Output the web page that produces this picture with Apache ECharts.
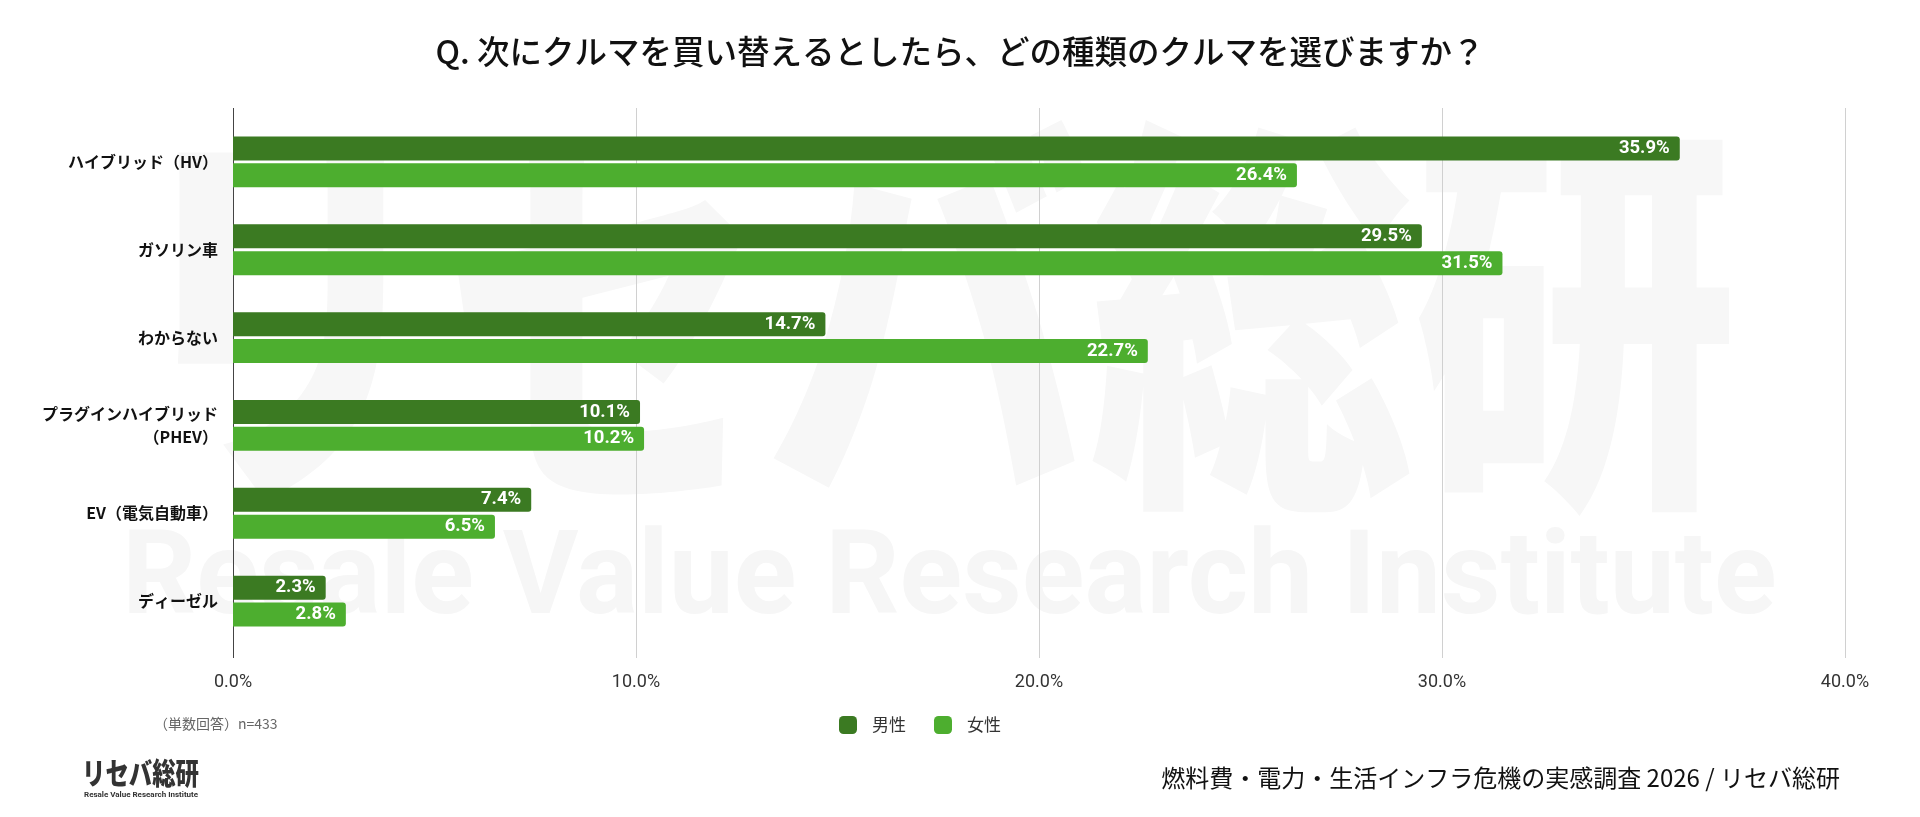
<!DOCTYPE html>
<html>
<head>
<meta charset="utf-8">
<script src="https://cdn.jsdelivr.net/npm/echarts@6/dist/echarts.min.js"></script>
<style>
html,body{margin:0;padding:0;background:#fff;}
#chart{width:1920px;height:817px;}
</style>
</head>
<body>
<div id="chart"></div>
<script>
const titleText = 'Q. 次にクルマを買い替えるとしたら、どの種類のクルマを選びますか？';
const categories = ['ハイブリッド（HV）', 'ガソリン車', 'わからない', 'プラグインハイブリッド\n（PHEV）', 'EV（電気自動車）', 'ディーゼル'];
const seriesNames = ['男性', '女性'];
const maleValues = [35.9, 29.5, 14.7, 10.1, 7.4, 2.3];
const femaleValues = [26.4, 31.5, 22.7, 10.2, 6.5, 2.8];
const xTicks = [0, 10, 20, 30, 40];
const noteText = '（単数回答）n=433';
const sourceText = '燃料費・電力・生活インフラ危機の実感調査 2026 / リセバ総研';

const JP = '"Noto Sans CJK JP", "Noto Sans", sans-serif';
const colors = ['#3B7A22', '#4DAE2F'];

const chart = echarts.init(document.getElementById('chart'));

function barSeries(name, data, color) {
  return {
    name: name,
    type: 'bar',
    data: data,
    xAxisIndex: 0,
    yAxisIndex: 0,
    barWidth: 24,
    barGap: '12%',
    itemStyle: { color: color, borderRadius: [0, 3, 3, 0] },
    label: {
      show: true,
      position: 'insideRight',
      distance: 10,
      color: '#fff',
      fontFamily: 'Roboto, "Noto Sans", sans-serif',
      fontWeight: 'bold',
      fontSize: 18.5,
      formatter: p => p.value.toFixed(1) + '%'
    },
    z: 3
  };
}

const xMin = xTicks[0], xMax = xTicks[xTicks.length - 1];

chart.setOption({
  animation: false,
  color: colors,
  title: {
    text: titleText,
    left: 'center',
    top: 30,
    textStyle: { fontFamily: JP, fontSize: 32.5, fontWeight: 500, color: '#111' }
  },
  legend: {
    data: seriesNames,
    left: 834,
    top: 711,
    icon: 'roundRect',
    itemWidth: 18,
    itemHeight: 18,
    itemGap: 28,
    textStyle: { fontFamily: JP, fontSize: 17, color: '#333', padding: [0, 0, 0, 10] }
  },
  grid: [
    { left: 233, right: 75, top: 118, bottom: 172, containLabel: false },
    { left: 233, right: 75, top: 108, bottom: 159, containLabel: false }
  ],
  xAxis: [{
    type: 'value', gridIndex: 0, min: xMin, max: xMax, interval: 10,
    show: false
  }, {
    type: 'value', gridIndex: 1, min: xMin, max: xMax, interval: 10,
    position: 'bottom',
    axisLine: { show: false },
    axisTick: { show: false },
    splitLine: { show: true, lineStyle: { color: ['#444', '#d0d0d0', '#d0d0d0', '#d0d0d0', '#d0d0d0'], width: 1 } },
    axisLabel: {
      margin: 15,
      color: '#333',
      fontFamily: 'Roboto, "Noto Sans", sans-serif',
      fontSize: 18,
      formatter: v => v.toFixed(1) + '%'
    }
  }],
  yAxis: [{
    type: 'category',
    gridIndex: 0,
    data: categories,
    inverse: true,
    axisLine: { show: false },
    axisTick: { show: false },
    axisLabel: {
      margin: 15,
      color: '#111',
      fontFamily: JP,
      fontWeight: 'bold',
      fontSize: 16,
      lineHeight: 23,
      align: 'right'
    }
  }, {
    type: 'value', gridIndex: 1, show: false, min: 0, max: 1
  }],
  graphic: [
    {
      type: 'text', z: -10, left: 120, top: 110, silent: true,
      style: { text: 'リセバ総研', fontFamily: JP, fontWeight: 900, fontSize: 330, fill: '#f7f7f7' },
      scaleX: 0.98, scaleY: 1.25
    },
    {
      type: 'text', z: -10, left: 122, top: 526, silent: true,
      style: { text: 'Resale Value Research Institute', fontFamily: 'Roboto, sans-serif', fontWeight: 'bold', fontSize: 116, fill: '#f6f6f6' }
    },
    {
      type: 'text', left: 154, top: 717,
      style: { text: noteText, fontFamily: JP, fontSize: 14, fill: '#666' }
    },
    {
      type: 'text', left: 82, top: 758,
      style: { text: 'リセバ総研', fontFamily: JP, fontWeight: 900, fontSize: 30, fill: '#333' },
      scaleX: 0.78
    },
    {
      type: 'text', left: 84, top: 791,
      style: { text: 'Resale Value Research Institute', fontFamily: 'Roboto, sans-serif', fontWeight: 'bold', fontSize: 8, fill: '#333' }
    },
    {
      type: 'text', right: 80, top: 766,
      style: { text: sourceText, fontFamily: JP, fontSize: 24, fill: '#111', textAlign: 'right' }
    }
  ],
  series: [
    barSeries(seriesNames[0], maleValues, colors[0]),
    barSeries(seriesNames[1], femaleValues, colors[1])
  ]
});
</script>
</body>
</html>
